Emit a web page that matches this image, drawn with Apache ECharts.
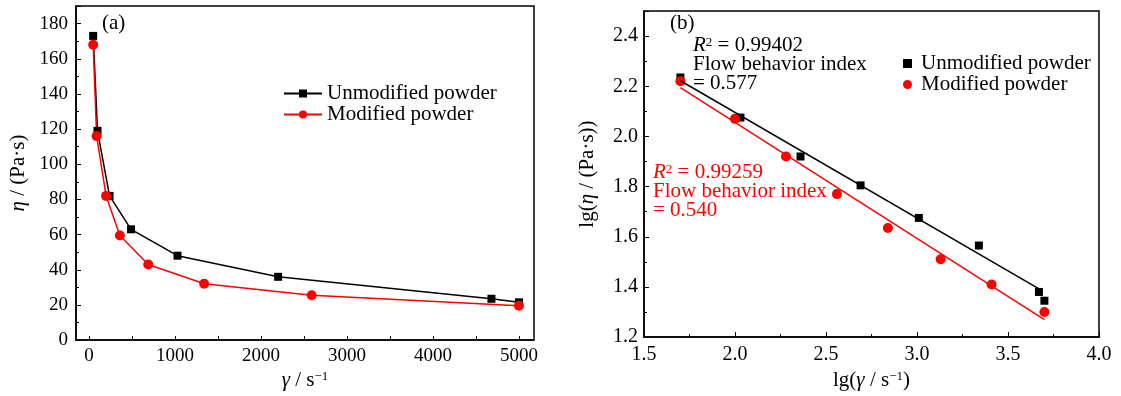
<!DOCTYPE html>
<html>
<head>
<meta charset="utf-8">
<script src="https://cdn.jsdelivr.net/npm/echarts@6/dist/echarts.min.js"></script>
<style>html,body{margin:0;padding:0;background:#fff;}#c{width:1121px;height:396px;}</style>
</head>
<body>
<div id="c"></div>
<script>
// ---- Panel (a): viscosity vs shear rate ----
const shearUnmod = [50, 100, 240, 490, 1030, 2200, 4680, 5000];
const etaUnmod   = [173, 119, 82, 63, 48, 36, 23.5, 21.5];
const shearMod   = [50, 90, 200, 360, 690, 1340, 2590, 5000];
const etaMod     = [168, 116, 82, 59.5, 43, 32, 25.5, 19.5];
const xTicksA    = [0, 500, 1000, 1500, 2000, 2500, 3000, 3500, 4000, 4500, 5000];
const xLabelsA   = [0, 1000, 2000, 3000, 4000, 5000];

// ---- Panel (b): log-log data and linear fits ----
const lgShearUnmod = [1.70, 2.03, 2.36, 2.69, 3.01, 3.34, 3.67, 3.70];
const lgEtaUnmod   = [2.235, 2.075, 1.92, 1.805, 1.675, 1.565, 1.38, 1.345];
const lgShearMod   = [1.70, 2.00, 2.28, 2.56, 2.84, 3.13, 3.41, 3.70];
const lgEtaMod     = [2.22, 2.07, 1.92, 1.77, 1.635, 1.51, 1.41, 1.30];
const fitUnmodX = [1.70, 3.68];
const fitUnmodY = [2.222, 1.388];
const fitModX   = [1.70, 3.70];
const fitModY   = [2.195, 1.270];

const seriesNames = ['Unmodified powder', 'Modified powder'];
const annotUnmod = ['0.99402', '0.577'];
const annotMod   = ['0.99259', '0.540'];

const zip = (a, b) => a.map((v, i) => [v, b[i]]);
const FF = '"Liberation Serif", "Times New Roman", serif';
const rich = {
  i: { fontStyle: 'italic', fontFamily: FF, fontSize: 21 },
  sup: { fontFamily: FF, fontSize: 13, verticalAlign: 'top' }
};
const nameStyle = { fontFamily: FF, fontSize: 21, color: '#000', rich: rich };
const axLine = { show: true, onZero: false, lineStyle: { color: '#000', width: 1.5 } };

const chart = echarts.init(document.getElementById('c'));
chart.setOption({
  animation: false,
  backgroundColor: '#fff',
  grid: [
    { left: 76, right: 587, top: 6, bottom: 55, show: true, borderColor: '#000', borderWidth: 1.5 },
    { left: 644, right: 22, top: 11, bottom: 55, show: true, borderColor: '#000', borderWidth: 1.5 }
  ],
  xAxis: [
    {
      type: 'value', gridIndex: 0, min: -150, max: 5175,
      axisLine: axLine,
      axisTick: { show: true, inside: true, length: 4, customValues: xTicksA, lineStyle: { color: '#000' } },
      axisLabel: { customValues: xLabelsA, fontFamily: FF, fontSize: 19, color: '#000', margin: 6, formatter: v => String(v) },
      splitLine: { show: false },
      name: '{i|γ} / s{sup|−1}', nameLocation: 'middle', nameGap: 26, nameTextStyle: nameStyle
    },
    {
      type: 'value', gridIndex: 1, min: 1.5, max: 4.0, interval: 0.5,
      axisLine: axLine,
      axisTick: { show: true, inside: true, length: 5, lineStyle: { color: '#000' } },
      minorTick: { show: true, splitNumber: 2, length: 3, lineStyle: { color: '#000' } },
      axisLabel: { fontFamily: FF, fontSize: 20, color: '#000', margin: 8, formatter: v => v.toFixed(1) },
      splitLine: { show: false },
      name: 'lg({i|γ} / s{sup|−1})', nameLocation: 'middle', nameGap: 31, nameTextStyle: nameStyle
    }
  ],
  yAxis: [
    {
      type: 'value', gridIndex: 0, min: 0, max: 190, interval: 20,
      axisLine: axLine,
      axisTick: { show: true, inside: true, length: 5, lineStyle: { color: '#000' } },
      minorTick: { show: true, splitNumber: 2, length: 3, lineStyle: { color: '#000' } },
      axisLabel: { fontFamily: FF, fontSize: 19, color: '#000', margin: 8, showMaxLabel: false },
      splitLine: { show: false },
      name: '{i|η} / (Pa·s)', nameLocation: 'middle', nameGap: 47, nameTextStyle: nameStyle
    },
    {
      type: 'value', gridIndex: 1, min: 1.2, max: 2.5, interval: 0.2,
      axisLine: axLine,
      axisTick: { show: true, inside: true, length: 5, lineStyle: { color: '#000' } },
      minorTick: { show: true, splitNumber: 2, length: 3, lineStyle: { color: '#000' } },
      axisLabel: { fontFamily: FF, fontSize: 20, color: '#000', margin: 6, showMaxLabel: false, formatter: v => v.toFixed(1) },
      splitLine: { show: false },
      name: 'lg({i|η} / (Pa·s))', nameLocation: 'middle', nameGap: 46, nameTextStyle: nameStyle
    }
  ],
  legend: [
    {
      data: seriesNames, orient: 'vertical', left: 283, top: 83, padding: 0,
      itemWidth: 38, itemHeight: 10, itemGap: 0,
      textStyle: { fontFamily: FF, fontSize: 21, color: '#000', lineHeight: 21 },
      selectedMode: false
    },
    {
      data: seriesNames.map(n => n + ' (b)'), orient: 'vertical', left: 903, top: 53, padding: 0,
      itemWidth: 9, itemHeight: 9, itemGap: 0,
      formatter: n => n.replace(' (b)', ''),
      textStyle: { fontFamily: FF, fontSize: 21, color: '#000', lineHeight: 21, padding: [0, 0, 0, 4] },
      selectedMode: false
    }
  ],
  series: [
    {
      name: seriesNames[0], type: 'line', xAxisIndex: 0, yAxisIndex: 0,
      data: zip(shearUnmod, etaUnmod), symbol: 'rect', symbolSize: 8,
      itemStyle: { color: '#000' }, lineStyle: { color: '#000', width: 1.5 }
    },
    {
      name: seriesNames[1], type: 'line', xAxisIndex: 0, yAxisIndex: 0,
      data: zip(shearMod, etaMod), symbol: 'circle', symbolSize: 10,
      itemStyle: { color: '#f00' }, lineStyle: { color: '#f00', width: 1.5 }
    },
    {
      name: 'fit unmod', type: 'line', xAxisIndex: 1, yAxisIndex: 1,
      data: zip(fitUnmodX, fitUnmodY), symbol: 'none',
      lineStyle: { color: '#000', width: 1.5 }
    },
    {
      name: 'fit mod', type: 'line', xAxisIndex: 1, yAxisIndex: 1,
      data: zip(fitModX, fitModY), symbol: 'none',
      lineStyle: { color: '#f00', width: 1.5 }
    },
    {
      name: seriesNames[0] + ' (b)', type: 'scatter', xAxisIndex: 1, yAxisIndex: 1,
      data: zip(lgShearUnmod, lgEtaUnmod), symbol: 'rect', symbolSize: 8,
      itemStyle: { color: '#000', opacity: 1 }
    },
    {
      name: seriesNames[1] + ' (b)', type: 'scatter', xAxisIndex: 1, yAxisIndex: 1,
      data: zip(lgShearMod, lgEtaMod), symbol: 'circle', symbolSize: 10,
      itemStyle: { color: '#f00', opacity: 1 }
    }
  ],
  graphic: [
    { type: 'text', left: 102, top: 13, style: { text: '(a)', fontFamily: FF, fontSize: 21, fill: '#000' } },
    { type: 'text', left: 670, top: 13, style: { text: '(b)', fontFamily: FF, fontSize: 21, fill: '#000' } },
    {
      type: 'text', left: 693, top: 35,
      style: {
        text: '{i|R}{sup|2} = ' + annotUnmod[0] + '\nFlow behavior index\n= ' + annotUnmod[1],
        fontFamily: FF, fontSize: 21, lineHeight: 19, fill: '#000',
        rich: { i: { fontStyle: 'italic', fontFamily: FF, fontSize: 21, lineHeight: 19 }, sup: { fontFamily: FF, fontSize: 13, verticalAlign: 'top', lineHeight: 19 } }
      }
    },
    {
      type: 'text', left: 653, top: 162,
      style: {
        text: '{i|R}{sup|2} = ' + annotMod[0] + '\nFlow behavior index\n= ' + annotMod[1],
        fontFamily: FF, fontSize: 21, lineHeight: 19, fill: '#f00',
        rich: { i: { fontStyle: 'italic', fontFamily: FF, fontSize: 21, lineHeight: 19, color: '#f00' }, sup: { fontFamily: FF, fontSize: 13, verticalAlign: 'top', lineHeight: 19, color: '#f00' } }
      }
    }
  ]
});
</script>
</body>
</html>
